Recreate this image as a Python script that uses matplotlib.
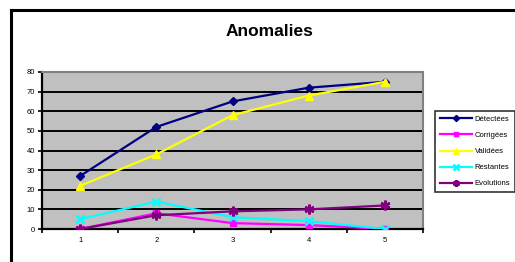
import matplotlib.pyplot as plt
from matplotlib.lines import Line2D

# data
categories = [1, 2, 3, 4, 5]
detectees = [27, 52, 65, 72, 75]
corrigees = [0, 8, 3, 2, 0]
validees = [22, 38, 58, 68, 75]
restantes = [5, 14, 6, 4, 0]
evolutions = [0, 7, 9, 10, 12]
yticks = [0, 10, 20, 30, 40, 50, 60, 70, 80]

plt.rcParams['font.family'] = ['Liberation Sans', 'DejaVu Sans']

fig = plt.figure(figsize=(5.15, 2.62), dpi=100)
ax = fig.add_axes([42 / 515, 1 - 229 / 262, 381 / 515, 157 / 262])
ax.set_facecolor('#C0C0C0')

series = [
    ('Détectées', detectees, '#000080', 'D', 4.5),
    ('Corrigées', corrigees, '#FF00FF', 's', 5),
    ('Validées', validees, '#FFFF00', '^', 6),
    ('Restantes', restantes, '#00FFFF', 'x', 6),
    ('Evolutions', evolutions, '#800080', (6, 2, 0), 7),
]
for name, vals, col, mk, ms in series:
    ax.plot(categories, vals, color=col, lw=1.6, marker=mk, markersize=ms,
            markeredgewidth=1.8 if mk in ('x', (6, 2, 0)) else 1,
            markerfacecolor=col, markeredgecolor=col, label=name, zorder=3)

ax.set_xlim(0.5, 5.5)
ax.set_ylim(0, 80)
ax.set_yticks(yticks)
ax.set_yticklabels([str(v) for v in yticks], fontsize=5.5)
ax.set_xticks(categories)
ax.set_xticklabels([str(c) for c in categories], fontsize=5.5)
ax.set_xticks([0.5, 1.5, 2.5, 3.5, 4.5, 5.5], minor=True)
ax.tick_params(axis='x', which='major', length=0, pad=6)
ax.tick_params(axis='x', which='minor', length=3, width=1.2, direction='out')
ax.tick_params(axis='y', length=3, width=1.2, direction='out', pad=2)
ax.yaxis.grid(True, color='black', lw=1.4, zorder=1)
ax.set_axisbelow(True)

for s in ('top', 'right'):
    ax.spines[s].set_color('#808080')
    ax.spines[s].set_linewidth(1.5)
for s in ('left', 'bottom'):
    ax.spines[s].set_color('black')
    ax.spines[s].set_linewidth(1.6)

fig.text(270 / 515, 1 - 31 / 262, 'Anomalies', fontsize=12.5, fontweight='bold',
         ha='center', va='center')

leg = fig.legend(loc='upper left', bbox_to_anchor=(435 / 515, 1 - 111 / 262),
                 borderaxespad=0, fontsize=5.5, frameon=True, fancybox=False,
                 borderpad=0.6, handlelength=4.2, labelspacing=1.15,
                 handletextpad=0.4, markerscale=0.7)
leg.get_frame().set_edgecolor('black')
leg.get_frame().set_linewidth(1.2)

# outer chart frame (top and left edges)
fig.add_artist(Line2D([11 / 515, 1], [1 - 9.5 / 262, 1 - 9.5 / 262],
                      color='black', lw=2.2, transform=fig.transFigure))
fig.add_artist(Line2D([11 / 515, 11 / 515], [0, 1 - 9.5 / 262],
                      color='black', lw=2.2, transform=fig.transFigure))

fig.savefig('out.png', dpi=100)
